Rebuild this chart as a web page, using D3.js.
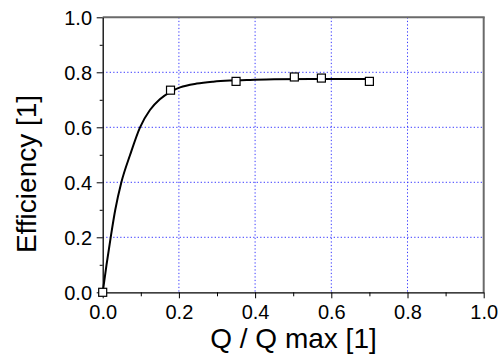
<!DOCTYPE html>
<html>
<head>
<meta charset="utf-8">
<script src="https://cdn.jsdelivr.net/npm/d3@7"></script>
<style>
  body { margin: 0; background: #fff; }
  svg text { font-family: "Liberation Sans", Arial, sans-serif; fill: #000; }
</style>
</head>
<body>
<svg id="chart" width="503" height="354"></svg>
<script>
// measured points
const pointX = [0, 0.178, 0.35, 0.503, 0.574, 0.70];
const pointY = [0, 0.735, 0.767, 0.783, 0.779, 0.767];

// fitted curve
const curveX = [0, 0.010, 0.021, 0.033, 0.049, 0.072, 0.098, 0.124, 0.150, 0.178, 0.203, 0.247, 0.290, 0.334, 0.378, 0.450, 0.550, 0.700];
const curveY = [0, 0.100, 0.200, 0.300, 0.400, 0.500, 0.600, 0.663, 0.702, 0.729, 0.745, 0.759, 0.766, 0.770, 0.772, 0.775, 0.776, 0.776];

const majorTicks = [0, 0.2, 0.4, 0.6, 0.8, 1.0];
const minorTicks = [0.1, 0.3, 0.5, 0.7, 0.9];
const gridTicks = [0.2, 0.4, 0.6, 0.8];

const xLabel = "Q / Q max [1]";
const yLabel = "Efficiency [1]";

const svg = d3.select("#chart");

const plotLeft = 102.7, plotRight = 483.7, plotTop = 17.3, plotBottom = 292.3;

const x = d3.scaleLinear().domain([0, 1]).range([plotLeft, plotRight]);
const y = d3.scaleLinear().domain([0, 1]).range([plotBottom, plotTop]);

// grid
const grid = svg.append("g")
  .attr("stroke", "#3a3aff")
  .attr("stroke-width", 1)
  .attr("stroke-dasharray", "1.3,2.2");
grid.selectAll(".gx").data(gridTicks).enter().append("line")
  .attr("x1", d => x(d)).attr("x2", d => x(d))
  .attr("y1", plotTop).attr("y2", plotBottom);
grid.selectAll(".gy").data(gridTicks).enter().append("line")
  .attr("y1", d => y(d)).attr("y2", d => y(d))
  .attr("x1", plotLeft).attr("x2", plotRight);

// top and right frame
svg.append("line")
  .attr("x1", plotLeft).attr("x2", plotRight + 1)
  .attr("y1", plotTop).attr("y2", plotTop)
  .attr("stroke", "#6a6a6a").attr("stroke-width", 2);
svg.append("line")
  .attr("x1", plotRight).attr("x2", plotRight)
  .attr("y1", plotTop).attr("y2", plotBottom)
  .attr("stroke", "#6a6a6a").attr("stroke-width", 2);

// X axis
const xAxis = svg.append("g")
  .attr("transform", "translate(0," + plotBottom + ")")
  .call(d3.axisBottom(x).tickValues(majorTicks).tickSize(6).tickSizeOuter(0)
    .tickPadding(6.8).tickFormat(d3.format(".1f")));
svg.append("g")
  .attr("transform", "translate(0," + plotBottom + ")")
  .call(d3.axisBottom(x).tickValues(minorTicks).tickSize(4).tickSizeOuter(0).tickFormat(""))
  .select(".domain").remove();

// Y axis
const yAxis = svg.append("g")
  .attr("transform", "translate(" + plotLeft + ",0)")
  .call(d3.axisLeft(y).tickValues(majorTicks).tickSize(6).tickSizeOuter(0)
    .tickPadding(4.7).tickFormat(d3.format(".1f")));
svg.append("g")
  .attr("transform", "translate(" + plotLeft + ",0)")
  .call(d3.axisLeft(y).tickValues(minorTicks).tickSize(3).tickSizeOuter(0).tickFormat(""))
  .select(".domain").remove();

svg.selectAll(".domain").attr("stroke", "#000").attr("stroke-width", 1.3);
svg.selectAll(".tick line").attr("stroke", "#000").attr("stroke-width", 1);
xAxis.selectAll("text").attr("font-size", 20).attr("font-family", null);
yAxis.selectAll("text").attr("font-size", 20).attr("font-family", null).attr("dy", "0.38em");

// curve
const line = d3.line()
  .x(d => x(d[0]))
  .y(d => y(d[1]))
  .curve(d3.curveMonotoneX);
svg.append("path")
  .datum(curveX.map((v, i) => [v, curveY[i]]))
  .attr("d", line)
  .attr("fill", "none")
  .attr("stroke", "#000")
  .attr("stroke-width", 2);

// markers
svg.append("g").selectAll("rect")
  .data(pointX.map((v, i) => [v, pointY[i]]))
  .enter()
  .append("rect")
  .attr("x", d => x(d[0]) - 4)
  .attr("y", d => y(d[1]) - 4)
  .attr("width", 8)
  .attr("height", 8)
  .attr("fill", "#fff")
  .attr("stroke", "#000")
  .attr("stroke-width", 1.2);

// axis titles
svg.append("text")
  .attr("x", 293.5)
  .attr("y", 348)
  .attr("text-anchor", "middle")
  .attr("font-size", 28)
  .text(xLabel);
svg.append("text")
  .attr("transform", "translate(36,174) rotate(-90)")
  .attr("text-anchor", "middle")
  .attr("font-size", 28)
  .text(yLabel);
</script>
</body>
</html>
